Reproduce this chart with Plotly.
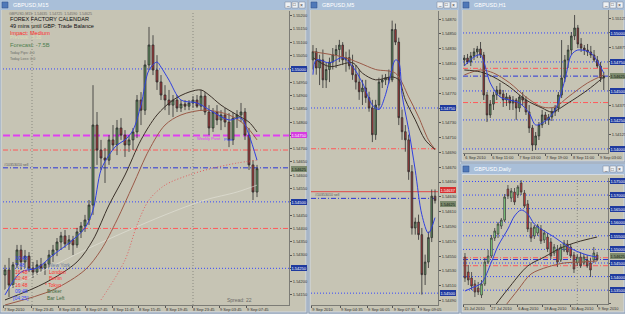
import plotly.graph_objects as go

W, H = 625, 314
BG = "#c6c4b4"

# ---------------- DATA ----------------
# Pane 1: GBPUSD,M15
m15_open = [1.54225,1.54244,1.54187,1.54263,1.54319,1.54274,1.54296,1.54251,1.54236,1.54263,
            1.54251,1.54266,1.54300,1.54319,1.54349,1.54372,1.54342,1.54357,1.54338,1.54387,
            1.54409,1.54432,1.54488,1.54789,1.54695,1.54665,1.54657,1.54733,1.54714,1.54778,
            1.54751,1.54714,1.54733,1.54763,1.54883,1.54845,1.55015,1.55090,1.54996,1.54951,
            1.54902,1.54883,1.54864,1.54883,1.54853,1.54868,1.54860,1.54872,1.54883,1.54860,
            1.54898,1.54838,1.54778,1.54838,1.54808,1.54827,1.54800,1.54733,1.54815,1.54827,
            1.54838,1.54751,1.54639,1.54537]
m15_high = [1.54263,1.54289,1.54274,1.54338,1.54338,1.54319,1.54311,1.54274,1.54281,1.54289,
            1.54274,1.54319,1.54338,1.54364,1.54387,1.54394,1.54375,1.54372,1.54402,1.54424,
            1.54451,1.54507,1.54939,1.54838,1.54733,1.54703,1.54751,1.54789,1.54808,1.54815,
            1.54770,1.54751,1.54778,1.54902,1.54913,1.55033,1.55158,1.55127,1.55052,1.54977,
            1.54939,1.54921,1.54902,1.54902,1.54883,1.54883,1.54883,1.54898,1.54902,1.54921,
            1.54913,1.54864,1.54853,1.54864,1.54845,1.54853,1.54834,1.54838,1.54845,1.54872,
            1.54853,1.54778,1.54657,1.54639]
m15_low = [1.54169,1.54142,1.54176,1.54251,1.54244,1.54251,1.54236,1.54214,1.54225,1.54236,
           1.54225,1.54251,1.54274,1.54296,1.54319,1.54327,1.54319,1.54300,1.54327,1.54364,
           1.54387,1.54413,1.54451,1.54639,1.54620,1.54571,1.54639,1.54695,1.54676,1.54733,
           1.54669,1.54688,1.54695,1.54740,1.54789,1.54827,1.54996,1.54977,1.54921,1.54883,
           1.54845,1.54827,1.54819,1.54838,1.54838,1.54845,1.54845,1.54853,1.54853,1.54845,
           1.54827,1.54751,1.54763,1.54789,1.54770,1.54781,1.54706,1.54714,1.54778,1.54800,
           1.54733,1.54620,1.54507,1.54518]
m15_close = [1.54244,1.54187,1.54263,1.54319,1.54274,1.54296,1.54251,1.54236,1.54263,1.54251,
             1.54266,1.54300,1.54319,1.54349,1.54372,1.54342,1.54357,1.54338,1.54387,1.54409,
             1.54432,1.54488,1.54789,1.54695,1.54665,1.54657,1.54733,1.54714,1.54778,1.54751,
             1.54714,1.54733,1.54763,1.54883,1.54845,1.55015,1.55090,1.54996,1.54951,1.54902,
             1.54883,1.54864,1.54883,1.54853,1.54868,1.54860,1.54872,1.54883,1.54860,1.54898,
             1.54838,1.54778,1.54838,1.54808,1.54827,1.54800,1.54733,1.54815,1.54827,1.54838,
             1.54751,1.54639,1.54537,1.54625]
m15_fast_x = [0,4,8,12,16,20,22,24,26,28,30,32,34,36,38,39,41,44,48,52,56,59,61,63]
m15_fast = [1.54150,1.54236,1.54251,1.54300,1.54345,1.54402,1.54469,1.54620,1.54676,1.54714,1.54733,1.54770,
            1.54864,1.54996,1.55026,1.55007,1.54958,1.54883,1.54872,1.54838,1.54808,1.54815,1.54751,1.54657]
m15_mid_x = [0,10,18,22,26,30,34,38,42,46,49,51,54,58,61,63]
m15_mid = [1.54131,1.54195,1.54274,1.54357,1.54488,1.54601,1.54733,1.54827,1.54883,1.54913,1.54921,1.54902,
           1.54864,1.54827,1.54800,1.54763]
m15_rb_x = [0,12,20,24,28,32,36,40,44,50,56,60,63]
m15_rb = [1.54112,1.54169,1.54244,1.54319,1.54432,1.54563,1.54695,1.54789,1.54827,1.54845,1.54827,1.54789,1.54733]
m15_slow_x = [24,30,33,36,40,46,52,58,63]
m15_slow = [1.54131,1.54281,1.54413,1.54507,1.54563,1.54601,1.54627,1.54646,1.54657]
m15_pale_x = [0,10,20,30,40,50,58,63]
m15_pale = [1.54169,1.54244,1.54319,1.54387,1.54451,1.54507,1.54537,1.54563]
m15_dates_x = [-0.5,6.5,13.25,20,26.75,33.25,40,46.75,53.5,60.25]
m15_dates = ["7 Sep 2010","7 Sep 23:45","8 Sep 03:45","8 Sep 07:45","8 Sep 11:45","8 Sep 15:45",
             "8 Sep 19:45","8 Sep 23:45","9 Sep 03:45","9 Sep 07:45"]
m15_grid = [6.75, 47]
m15_dot_lv = [1.5500, 1.5450, 1.5425]
m15_red_lv = [1.54695, 1.5440]
m15_blue_dd = [1.54628]
m15_magenta = [1.5475]

# Pane 2: GBPUSD,M5
m5_open = [1.54815,1.54826,1.54804,1.54815,1.54788,1.54802,1.54812,1.54822,1.54829,1.54835,
           1.54815,1.54818,1.54807,1.54795,1.54785,1.54772,1.54777,1.54764,1.54750,1.54714,
           1.54754,1.54785,1.54788,1.54791,1.54788,1.54856,1.54839,1.54737,1.54718,1.54707,
           1.54664,1.54588,1.54596,1.54579,1.54525,1.54542,1.54575,1.54631]
m5_high = [1.54835,1.54831,1.54822,1.54829,1.54812,1.54818,1.54831,1.54835,1.54842,1.54839,
           1.54826,1.54829,1.54822,1.54808,1.54802,1.54788,1.54788,1.54772,1.54761,1.54761,
           1.54791,1.54795,1.54796,1.54802,1.54868,1.54864,1.54845,1.54748,1.54727,1.54714,
           1.54673,1.54602,1.54606,1.54588,1.54552,1.54583,1.54640,1.54640]
m5_low = [1.54802,1.54795,1.54781,1.54777,1.54777,1.54785,1.54802,1.54804,1.54812,1.54808,
          1.54799,1.54802,1.54788,1.54775,1.54761,1.54754,1.54757,1.54745,1.54704,1.54707,
          1.54748,1.54777,1.54781,1.54783,1.54785,1.54835,1.54727,1.54707,1.54691,1.54653,
          1.54579,1.54579,1.54572,1.54498,1.54511,1.54534,1.54569,1.54621]
m5_close = [1.54826,1.54804,1.54815,1.54788,1.54802,1.54812,1.54822,1.54829,1.54835,1.54815,
            1.54818,1.54807,1.54795,1.54785,1.54772,1.54777,1.54764,1.54750,1.54714,1.54754,
            1.54785,1.54788,1.54791,1.54788,1.54856,1.54839,1.54737,1.54718,1.54707,1.54664,
            1.54588,1.54596,1.54579,1.54525,1.54542,1.54575,1.54631,1.54625]
m5_fast_x = [0,1,5,9,12,15,18,20,22,23,25,26,27,29,31,33,35,37]
m5_fast = [1.54795,1.54815,1.54811,1.54818,1.54806,1.54784,1.54754,1.54748,1.54768,1.54785,1.54815,1.54812,
           1.54768,1.54721,1.54666,1.54606,1.54581,1.54602]
m5_mid_x = [0,5,12,15,19,24,26,28,31,34,37]
m5_mid = [1.54818,1.54806,1.54811,1.54797,1.54788,1.54792,1.54788,1.54761,1.54734,1.54707,1.54694]
m5_rb_x = [0,9,14,19,25,29,32,35,37]
m5_rb = [1.54826,1.54819,1.54811,1.54802,1.54797,1.54765,1.54738,1.54707,1.54694]
m5_dates_x = [-0.5,8.2,16.4,24.2,32.1]
m5_dates = ["9 Sep 2010","9 Sep 04:35","9 Sep 06:05","9 Sep 07:35","9 Sep 09:05"]
m5_dot_lv = [1.5475, 1.5450]
m5_red_lv = [1.54695]
m5_blue_dd = [1.54628]
m5_ask = [1.54637]

# Pane 3: GBPUSD,H1
h1_open = [1.54767,1.54784,1.54750,1.54801,1.54836,1.54862,1.54810,1.54465,1.54293,1.54387,
           1.54465,1.54508,1.54474,1.54422,1.54448,1.54396,1.54422,1.54353,1.54448,1.54422,
           1.54319,1.54181,1.54034,1.54112,1.54207,1.54293,1.54250,1.54275,1.54319,1.54353,
           1.54465,1.54612,1.54767,1.54853,1.54974,1.55043,1.54905,1.54870,1.54853,1.54836,
           1.54810,1.54767,1.54715,1.54612]
h1_high = [1.54810,1.54819,1.54836,1.54870,1.54888,1.54922,1.54836,1.54491,1.54422,1.54491,
           1.54543,1.54569,1.54508,1.54482,1.54465,1.54456,1.54439,1.54465,1.54491,1.54456,
           1.54379,1.54207,1.54146,1.54232,1.54336,1.54319,1.54301,1.54353,1.54379,1.54491,
           1.54939,1.54810,1.54896,1.55008,1.55155,1.55069,1.54956,1.54896,1.54905,1.54888,
           1.54853,1.54801,1.54750,1.54663]
h1_low = [1.54715,1.54732,1.54715,1.54767,1.54784,1.54784,1.54422,1.54232,1.54267,1.54336,
          1.54422,1.54448,1.54362,1.54370,1.54336,1.54336,1.54250,1.54319,1.54379,1.54293,
          1.54138,1.53982,1.53991,1.54077,1.54181,1.54215,1.54207,1.54241,1.54284,1.54319,
          1.54439,1.54577,1.54698,1.54810,1.54939,1.54870,1.54836,1.54810,1.54801,1.54784,
          1.54750,1.54698,1.54577,1.54508]
h1_close = [1.54784,1.54750,1.54801,1.54836,1.54862,1.54810,1.54465,1.54293,1.54387,1.54465,
            1.54508,1.54474,1.54422,1.54448,1.54396,1.54422,1.54353,1.54448,1.54422,1.54319,
            1.54181,1.54034,1.54112,1.54207,1.54293,1.54250,1.54275,1.54319,1.54353,1.54465,
            1.54612,1.54767,1.54853,1.54974,1.55043,1.54905,1.54870,1.54853,1.54836,1.54810,
            1.54767,1.54715,1.54612,1.54625]
h1_fast_x = [0,3,5,8,11,14,17,20,22,25,28,31,33,35,39,43]
h1_fast = [1.54715,1.54793,1.54810,1.54569,1.54448,1.54422,1.54396,1.54310,1.54207,1.54241,1.54336,1.54594,
           1.54810,1.54853,1.54827,1.54655]
h1_mid_x = [0,5,9,14,19,24,27,32,38,43]
h1_mid = [1.54681,1.54664,1.54620,1.54534,1.54422,1.54353,1.54319,1.54396,1.54508,1.54620]
h1_rb_x = [0,5,9,14,19,24,28,32,38,43]
h1_rb = [1.54638,1.54681,1.54655,1.54569,1.54448,1.54362,1.54362,1.54448,1.54569,1.54638]
h1_dates_x = [0,8.3,16.6,24.9,33.2,41.5]
h1_dates = ["6 Sep 2010","6 Sep 11:00","7 Sep 03:00","7 Sep 19:00","8 Sep 11:00","9 Sep 03:00"]
h1_dot_lv = [1.5500, 1.5475, 1.5450, 1.5425, 1.5400]
h1_red_lv = [1.54695, 1.5440]
h1_blue_dd = [1.54628]

# Pane 4: GBPUSD,Daily
d1_open = [1.54720,1.54168,1.53948,1.53727,1.53580,1.53322,1.53727,1.54536,1.54757,1.55420,
           1.55567,1.55861,1.56082,1.57223,1.56892,1.57112,1.57002,1.57444,1.57076,1.56671,
           1.55788,1.55493,1.55604,1.55751,1.55346,1.55456,1.55272,1.54868,1.54978,1.54610,
           1.54978,1.55199,1.55088,1.54794,1.54500,1.54720,1.54500,1.54610,1.54500,1.54610,
           1.54794]
d1_high = [1.54868,1.54426,1.54168,1.53874,1.53802,1.53874,1.54684,1.54978,1.55530,1.55788,
           1.56008,1.56156,1.57039,1.57370,1.57260,1.57260,1.57370,1.57554,1.57186,1.56818,
           1.56008,1.55898,1.55934,1.55898,1.55714,1.55604,1.55420,1.55199,1.55162,1.55199,
           1.55346,1.55346,1.55199,1.54904,1.54831,1.54904,1.54831,1.54794,1.54684,1.55088,
           1.54904]
d1_low = [1.53802,1.53690,1.53506,1.53248,1.53322,1.53212,1.53653,1.54463,1.54684,1.55309,
          1.55420,1.55751,1.56008,1.56855,1.56744,1.56634,1.56892,1.57002,1.56524,1.55640,
          1.55272,1.55383,1.55493,1.55199,1.55236,1.54904,1.54648,1.54757,1.54352,1.54536,
          1.54904,1.54794,1.54684,1.54132,1.54389,1.54316,1.54426,1.54316,1.53985,1.54500,
          1.54573]
d1_close = [1.53948,1.53874,1.53653,1.53432,1.53432,1.53727,1.54536,1.54757,1.55420,1.55677,
            1.55934,1.56082,1.56929,1.56966,1.57149,1.56744,1.57296,1.57112,1.56597,1.55751,
            1.55420,1.55824,1.55861,1.55309,1.55604,1.55015,1.54757,1.55088,1.54536,1.55088,
            1.55236,1.54904,1.54757,1.54279,1.54720,1.54389,1.54720,1.54389,1.54242,1.54868,
            1.54625]
d1_fast_x = [0,2,5,8,10,13,15,17,19,21,24,27,30,33,37,40]
d1_fast = [1.53469,1.53580,1.53764,1.54536,1.55125,1.55751,1.56229,1.56450,1.56303,1.55934,1.55677,1.55456,
           1.55199,1.54978,1.54794,1.54720]
d1_mid_x = [9,13,19,24,29,34,40]
d1_mid = [1.52917,1.53543,1.54389,1.54720,1.55052,1.55272,1.55456]
d1_rb_x = [11,16,20,25,30,35,40]
d1_rb = [1.52733,1.53506,1.54095,1.54352,1.54500,1.54536,1.54573]
d1_dates_x = [-0.6,7.6,15.8,23.6,31.8,40]
d1_dates = ["15 Jul 2010","27 Jul 2010","6 Aug 2010","18 Aug 2010","30 Aug 2010","9 Sep 2010"]
d1_grid = [34]
d1_dot_lv = [1.5350,1.5400,1.5450,1.5500,1.5550,1.5600,1.5650,1.5700,1.5750]
d1_red_lv = [1.54695, 1.5440]
d1_blue_dd = [1.54628]

bid = 1.54625

# ---------------- FIGURE ----------------
fig = go.Figure()

def px(x):
    return x / W

def py(y):
    return 1 - y / H

shapes = []
annotations = []

def rect(x0, y0, x1, y1, fill, line=None, lw=0):
    shapes.append(dict(type="rect", xref="paper", yref="paper", x0=px(x0), x1=px(x1), y0=py(y1), y1=py(y0),
                       fillcolor=fill, line=dict(color=line or fill, width=lw), layer="below"))

def text(x, y, s, color="#000", size=5, anchor="left"):
    annotations.append(dict(xref="paper", yref="paper", x=px(x), y=py(y), text=s, showarrow=False,
                            xanchor=anchor, yanchor="middle", font=dict(size=size, color=color)))

def window(x0, y0, x1, y1, title, plot_top):
    rect(x0, y0, x1, y1, "#d3dbe5", "#8a9bb0", 1)
    rect(x0, y0, x1, y0 + 10, "#a9bfd9")
    rect(x0 + 2, y0 + 2, x0 + 8, y0 + 8, "#4f78b8", "#2f4f88", 0.5)
    text(x0 + 11, y0 + 5.2, title, "#ffffff", 5.5)
    for k in range(3):
        bx = x1 - 22 + k * 7
        rect(bx, y0 + 2, bx + 6, y0 + 8, "#eef1f4", "#7a8798", 0.5)
    text(x1 - 19.3, y0 + 5, "_", "#333", 4.5, "center")
    text(x1 - 12.3, y0 + 5, "□", "#333", 4.5, "center")
    text(x1 - 5.3, y0 + 5, "×", "#333", 5, "center")
    rect(x0 + 1.5, plot_top, x1 - 1.5, y1 - 1.5, BG)

window(0, 0, 307, 313, "GBPUSD,M15", 10)
window(309, 0, 459, 313, "GBPUSD,M5", 10)
window(461, 0, 625, 162, "GBPUSD,H1", 10)
window(461, 164, 625, 313, "GBPUSD,Daily", 175)

panes = {
    1: dict(x=(3, 289), y=(11, 305)),
    2: dict(x=(311, 438), y=(11, 305)),
    3: dict(x=(463, 608), y=(10, 153)),
    4: dict(x=(463, 608), y=(178, 304)),
}

def sfx(n):
    return "" if n == 1 else str(n)

def add_candles(n, o, h, l, c, inc, dec, lc):
    fig.add_trace(go.Candlestick(
        x=list(range(len(o))), open=o, high=h, low=l, close=c,
        xaxis="x" + sfx(n), yaxis="y" + sfx(n),
        increasing=dict(fillcolor=inc, line=dict(color=lc, width=0.8)),
        decreasing=dict(fillcolor=dec, line=dict(color=lc, width=0.8)),
        whiskerwidth=0, showlegend=False, hoverinfo="skip"))

def add_line(n, xs, ys, color, width=1, dash=None):
    fig.add_trace(go.Scatter(x=xs, y=ys, mode="lines", xaxis="x" + sfx(n), yaxis="y" + sfx(n),
                             line=dict(color=color, width=width, dash=dash, shape="spline", smoothing=0.9),
                             showlegend=False, hoverinfo="skip"))

def hline(n, p, color, width=1, dash="dot"):
    shapes.append(dict(type="line", xref="x" + sfx(n) + " domain", x0=0, x1=1, yref="y" + sfx(n),
                       y0=p, y1=p, line=dict(color=color, width=width, dash=dash), layer="below"))

def vgrid(n, xv):
    shapes.append(dict(type="line", yref="y" + sfx(n) + " domain", y0=0, y1=1, xref="x" + sfx(n),
                       x0=xv, x1=xv, line=dict(color="#8a8a80", width=1, dash="1px,2px"), layer="below"))

def plabel(n, p, bg, fg="#ffffff", shift=0):
    annotations.append(dict(xref="paper", yref="y" + sfx(n), x=px(panes[n]["x"][1] + 1.5), y=p,
                            text=f"{p:.5f}", showarrow=False, xanchor="left", yanchor="middle",
                            font=dict(size=4, color=fg), bgcolor=bg, borderpad=0.5, borderwidth=0,
                            yshift=shift))

DASHDOT = "5px,2px,1px,2px"
DOT = "1px,2px"
BLUE_DOT = "#3446ff"
RED_DD = "#ff5a5a"
BLUE_DD = "#2a35d8"

for p in m15_dot_lv: hline(1, p, BLUE_DOT, 1, DOT)
for p in m15_red_lv: hline(1, p, RED_DD, 1, DASHDOT)
for p in m15_blue_dd: hline(1, p, BLUE_DD, 1, DASHDOT)
for p in m15_magenta: hline(1, p, "#e040f0", 2, "7px,3px")
for g in m15_grid: vgrid(1, g)

for p in m5_dot_lv: hline(2, p, BLUE_DOT, 1, DOT)
for p in m5_red_lv: hline(2, p, RED_DD, 1, DASHDOT)
for p in m5_ask: hline(2, p, "#e04848", 1, "solid")
for p in m5_blue_dd: hline(2, p, BLUE_DD, 1, DASHDOT)

for p in h1_dot_lv: hline(3, p, BLUE_DOT, 1, DOT)
for p in h1_red_lv: hline(3, p, RED_DD, 1, DASHDOT)
for p in h1_blue_dd: hline(3, p, BLUE_DD, 1, DASHDOT)

for p in d1_dot_lv: hline(4, p, BLUE_DOT, 1, DOT)
for p in d1_red_lv: hline(4, p, RED_DD, 1, DASHDOT)
for p in d1_blue_dd: hline(4, p, BLUE_DD, 1, DASHDOT)
for g in d1_grid: vgrid(4, g)

add_candles(1, m15_open, m15_high, m15_low, m15_close, "#5f8f5f", "#a83a3a", "#2e2e2e")
add_line(1, m15_pale_x, m15_pale, "rgba(232,232,222,0.55)", 1)
add_line(1, m15_slow_x, m15_slow, "#e06060", 1, "1px,2px")
add_line(1, m15_rb_x, m15_rb, "#9a5a48", 1)
add_line(1, m15_mid_x, m15_mid, "#3a3028", 1)
add_line(1, m15_fast_x, m15_fast, "#3040e0", 1)

add_candles(2, m5_open, m5_high, m5_low, m5_close, "#5f8f5f", "#a83a3a", "#2e2e2e")
add_line(2, m5_rb_x, m5_rb, "#9a5a48", 1)
add_line(2, m5_mid_x, m5_mid, "#3a3028", 1)
add_line(2, m5_fast_x, m5_fast, "#3040e0", 1)

add_candles(3, h1_open, h1_high, h1_low, h1_close, "#5f8f5f", "#a83a3a", "#2e2e2e")
add_line(3, h1_rb_x, h1_rb, "#9a5a48", 1)
add_line(3, h1_mid_x, h1_mid, "#3a3028", 1)
add_line(3, h1_fast_x, h1_fast, "#3040e0", 1)

add_candles(4, d1_open, d1_high, d1_low, d1_close, "#8ff08f", "#e03a3a", "#3a3a3a")
add_line(4, d1_rb_x, d1_rb, "#9a5a48", 1)
add_line(4, d1_mid_x, d1_mid, "#3a3028", 1)
add_line(4, d1_fast_x, d1_fast, "#3040e0", 1)

axis_cfg = {
    1: dict(xr=[-0.5, 71], yr=[1.54112, 1.55218], dtick=0.0005, tick0=1.5400, dx=m15_dates_x, dt=m15_dates, lab=True),
    2: dict(xr=[-0.6, 37.9], yr=[1.54484, 1.54881], dtick=0.0002, tick0=1.5475, dx=m5_dates_x, dt=m5_dates, lab=True),
    3: dict(xr=[-0.4, 44.3], yr=[1.53965, 1.55198], dtick=0.00125, tick0=1.5400, dx=h1_dates_x, dt=h1_dates, lab=True),
    4: dict(xr=[-0.6, 43.3], yr=[1.52991, 1.57628], dtick=0.005, tick0=1.5400, dx=d1_dates_x, dt=d1_dates, lab=False),
}
lay = {}
for n, cfg in axis_cfg.items():
    pxr = panes[n]["x"]
    pyr = panes[n]["y"]
    lay["xaxis" + sfx(n)] = dict(
        domain=[px(pxr[0]), px(pxr[1])], range=cfg["xr"], anchor="y" + sfx(n),
        showgrid=False, zeroline=False, showline=True, linecolor="#7c7c76", linewidth=1,
        tickmode="array", tickvals=cfg["dx"], ticktext=cfg["dt"], ticks="outside", ticklen=2,
        tickcolor="#555", tickfont=dict(size=4, color="#333"), ticklabelposition="outside right",
        tickangle=0, automargin=False,
        rangeslider=dict(visible=False), fixedrange=True)
    lay["yaxis" + sfx(n)] = dict(
        domain=[py(pyr[1]), py(pyr[0])], range=cfg["yr"], anchor="x" + sfx(n), side="right",
        showgrid=False, zeroline=False, showline=True, linecolor="#7c7c76", linewidth=1,
        dtick=cfg["dtick"], tick0=cfg["tick0"], tickformat=".5f", ticks="outside", ticklen=2,
        showticklabels=cfg["lab"],
        tickcolor="#555", tickfont=dict(size=4, color="#333"), automargin=False, fixedrange=True)

HB = "#1f3a9e"
GR = "#7d8a6e"
for p in [1.5500, 1.5450, 1.5425]: plabel(1, p, HB)
plabel(1, 1.5475, "#d63ce0")
plabel(1, bid, GR, "#102010")
for p in [1.5475, 1.5450]: plabel(2, p, HB)
plabel(2, 1.54637, "#d83030", shift=2)
plabel(2, bid, GR, "#102010", shift=-3)
for p in [1.5500, 1.5475, 1.5450, 1.5425, 1.5400]: plabel(3, p, HB)
plabel(3, bid, GR, "#102010")
for p in d1_dot_lv:
    plabel(4, p, HB)
plabel(4, bid, GR, "#102010", shift=3.4)

text(7, 14, "GBPUSD,M15  1.54635  1.54725  1.54590  1.54625", "#6a6a66", 3.6)
text(8, 18.5, "FOREX FACTORY CALENDAR", "#101010", 5.6)
text(8, 26, "49 mins until GBP: Trade Balance", "#101010", 5.6)
text(8, 32.5, "Impact: Medium", "#ff2a2a", 5.6)
text(8, 37.8, "Previous: -8.3B", "#dcdcb4", 4.6)
text(8, 44.8, "Forecast: -7.5B", "#4f7f4f", 5.8)
text(8, 53, "Today Pips: 4.0", "#6a6a66", 3.6)
text(8, 59, "Today Loss: 0.0", "#6a6a66", 3.6)
text(2, 164.5, "#10353010 sell", "#5a5a5a", 3.6)
text(195, 138.5, "Weekly Pivot", "#e040f0", 4)
text(222, 139.5, "Pivot", "#3446ff", 4)
text(13, 258, "10:48", "#3446ff", 5)
text(13, 264.5, "7:48", "#3446ff", 5)
text(47, 264.5, "New York", "#6a7a9a", 5)
text(13, 271.5, "16:48", "#ff3030", 5)
text(47, 271.5, "London", "#ff3030", 5)
text(13, 278, "20:48", "#ff3030", 5)
text(47, 278, "Berlin", "#ff3030", 5)
text(13, 284.5, "16:48", "#ff3030", 5)
text(43, 284.5, "* Tokyo", "#ff3030", 5)
text(13, 291, "09:48", "#3446ff", 5)
text(45, 291, "Broker", "#3f6a3f", 5)
text(11, 297.5, "[04:25]", "#3446ff", 5)
text(45, 297.5, "Bar Left", "#3f6a3f", 5)
text(225, 300, "Spread: 22", "#6a6a66", 5)
text(313, 194.5, "#10353010 sell", "#5a5a5a", 3.6)

fig.update_layout(
    width=W, height=H, autosize=False, margin=dict(l=0, r=0, t=0, b=0),
    paper_bgcolor="#c4cfdc", plot_bgcolor=BG,
    font=dict(family="Liberation Sans, Arial, sans-serif", size=5),
    showlegend=False, shapes=shapes, annotations=annotations, **lay)

fig.write_html("out.html")
